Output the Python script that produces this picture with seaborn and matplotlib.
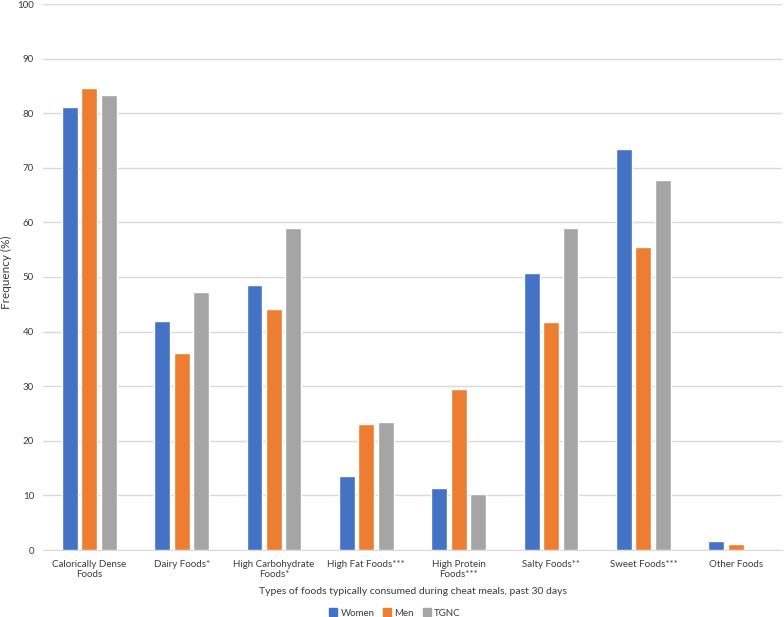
import matplotlib
matplotlib.use("Agg")
import matplotlib.pyplot as plt
import seaborn as sns
import pandas as pd

# 数据
categories = [
    "Calorically Dense\nFoods",
    "Dairy Foods*",
    "High Carbohydrate\nFoods*",
    "High Fat Foods***",
    "High Protein\nFoods***",
    "Salty Foods**",
    "Sweet Foods***",
    "Other Foods",
]
women = [81.2, 42.0, 48.6, 13.6, 11.3, 50.7, 73.5, 1.7]
men = [84.7, 36.0, 44.1, 23.1, 29.4, 41.8, 55.5, 1.1]
tgnc = [83.4, 47.2, 58.9, 23.5, 10.3, 58.9, 67.8, 0.0]
groups = ["Women", "Men", "TGNC"]
colors = ["#4472C4", "#ED7D31", "#A5A5A5"]

# 长格式 DataFrame
rows = []
for g, vals in zip(groups, [women, men, tgnc]):
    for c, v in zip(categories, vals):
        rows.append({"category": c, "group": g, "value": v})
df = pd.DataFrame(rows)

sns.set_style("white")
plt.rcParams["font.family"] = ["Lato", "DejaVu Sans"]
text_color = "#3A3A3A"

fig = plt.figure(figsize=(7.84, 6.17), dpi=100)
ax = fig.add_axes([43 / 784, 1 - 550 / 617, 739 / 784, 546 / 617])

sns.barplot(
    data=df, x="category", y="value", hue="group",
    palette=dict(zip(groups, colors)), saturation=1, width=0.63, gap=0.18,
    ax=ax, legend=False, zorder=3,
)

# 坐标轴样式
ax.set_ylim(0, 100)
ax.set_yticks(range(0, 101, 10))
ax.yaxis.grid(True, color="#D9D9D9", linewidth=1, zorder=0)
ax.set_axisbelow(True)
for s in ["left", "right", "top"]:
    ax.spines[s].set_visible(False)
ax.spines["bottom"].set_color("#D9D9D9")
ax.tick_params(axis="both", length=0, labelsize=7, colors=text_color)
ax.tick_params(axis="x", pad=7)
ax.tick_params(axis="y", pad=6.5)

ax.set_xlabel("Types of foods typically consumed during cheat meals, past 30 days",
              fontsize=7.5, color=text_color, va="center")
ax.xaxis.set_label_coords((413 - 43) / 739, -(592 - 550) / 546)
ax.set_ylabel("")
fig.text(6 / 784, 1 - 272 / 617, "Frequency (%)", rotation=90, ha="center",
         va="center", fontsize=8.5, color=text_color)

# 图例
handles = [plt.Rectangle((0, 0), 1, 1, color=c) for c in colors]
fig.legend(handles, groups, loc="center", bbox_to_anchor=(395 / 784, 4 / 617),
           ncol=3, frameon=False, fontsize=7, handlelength=0.8, handleheight=0.8,
           handletextpad=0.35, columnspacing=0.9, labelcolor=text_color,
           borderpad=0, borderaxespad=0)

plt.savefig("out.png", dpi=100)
plt.close()
